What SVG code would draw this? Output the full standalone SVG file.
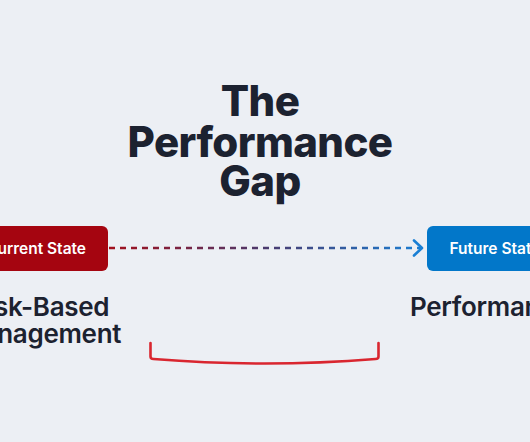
<svg xmlns="http://www.w3.org/2000/svg" width="530" height="442" viewBox="0 0 530 442">
  <defs>
    <linearGradient id="flow" gradientUnits="userSpaceOnUse" x1="108" y1="0" x2="424" y2="0">
      <stop offset="0" stop-color="#a3101c"/>
      <stop offset="0.5" stop-color="#4a3a6e"/>
      <stop offset="1" stop-color="#1a7fd4"/>
    </linearGradient>
    <style>
      .title { font-family: Inter, "Liberation Sans", sans-serif; font-weight: 800; font-size: 42px; letter-spacing: -0.6px; fill: #1c2230; text-anchor: middle; }
      .boxtext { font-family: Inter, "Liberation Sans", sans-serif; font-weight: 600; font-size: 15.5px; fill: #ffffff; text-anchor: middle; }
      .label { font-family: Inter, "Liberation Sans", sans-serif; font-weight: 600; font-size: 26px; letter-spacing: -0.3px; fill: #1c2230; }
    </style>
  </defs>
  <rect x="0" y="0" width="530" height="442" fill="#eceff4"/>

  <g id="title">
    <text class="title" x="260" y="116">The</text>
    <text class="title" x="260" y="157">Performance</text>
    <text class="title" x="260" y="196">Gap</text>
  </g>

  <g id="connectors">
    <line x1="109" y1="248" x2="421" y2="248" stroke="url(#flow)" stroke-width="2.6" stroke-dasharray="6 5"/>
    <polyline points="414,240.5 422,248 414,255.5" fill="none" stroke="#1a7fd4" stroke-width="2.6" stroke-linecap="round" stroke-linejoin="round"/>
  </g>

  <g id="current-state">
    <rect x="-32" y="226" width="140" height="45" rx="6" fill="#a50510"/>
    <text class="boxtext" x="36" y="254">Current State</text>
    <text class="label" x="40" y="316" text-anchor="middle">Risk-Based</text>
    <text class="label" x="40" y="343" text-anchor="middle">Management</text>
  </g>

  <g id="future-state">
    <rect x="427" y="226" width="140" height="45" rx="6" fill="#0277c9"/>
    <text class="boxtext" x="495" y="254">Future State</text>
    <text class="label" x="410" y="316">Performance</text>
  </g>

  <g id="gap-bracket">
    <path d="M150.5,343 L150.5,356.5 Q150.5,359 153.5,359 Q265,368 375.5,359 Q378.5,359 378.5,356.5 L378.5,343" fill="none" stroke="#d9262f" stroke-width="2.6" stroke-linecap="round" stroke-linejoin="round"/>
  </g>
</svg>
